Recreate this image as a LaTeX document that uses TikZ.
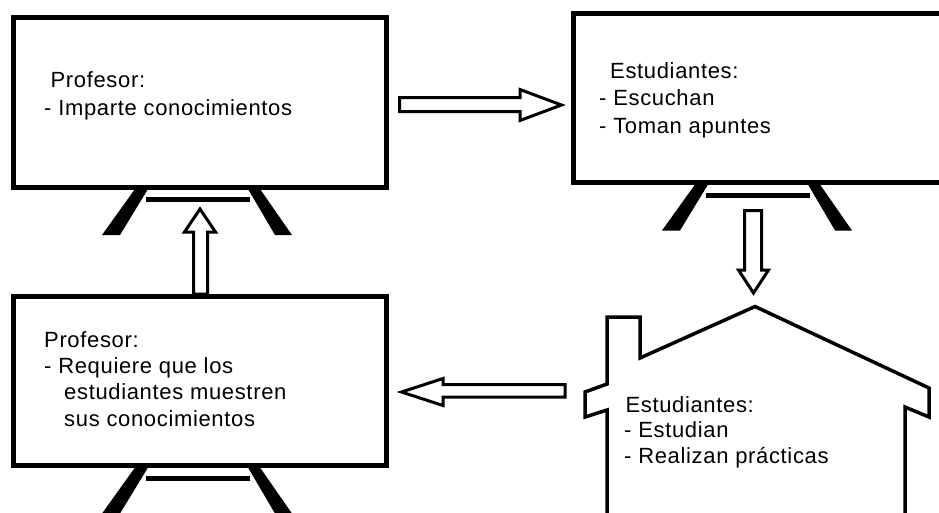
\documentclass[tikz,border=0pt]{standalone}
\usepackage{fontspec}
\setmainfont{Liberation Sans}[LetterSpace=3]
\begin{document}
\begin{tikzpicture}[x=1pt,y=-1pt,
  boxline/.style={line width=5pt,draw=black,fill=white},
  leg/.style={fill=black},
  barline/.style={line width=5pt},
  blockarrow/.style={line width=3pt,draw=black,fill=white,line join=miter},
  houseline/.style={line width=3.5pt,draw=black,fill=white,line join=miter},
  txt/.style={anchor=base west,inner sep=0pt,align=left},
  easel/.pic={
    \draw[boxline] (0,0) rectangle (373.5,169.5);
    \fill[leg] (122,171.5) -- (135,171.5) -- (107,217.5) -- (89,217.5) -- cycle;
    \fill[leg] (235,171.5) -- (247,171.5) -- (279,217.5) -- (262,217.5) -- cycle;
    \draw[barline] (133,182) -- (237,182);
  }]
\useasboundingbox (0,0) rectangle (939,512);
\fill[white] (0,0) rectangle (939,512);
\begin{scope}
\clip (0,0) rectangle (939,512);
% easels
\pic (e1) at (13,17.5) {easel};
\pic (e2) at (573,13) {easel};
\pic (e3) at (13,296) {easel};
% house
\draw[houseline] (607,530) -- (607,410) -- (585,417) -- (585,392) -- (607,384)
  -- (607,317) -- (640,317) -- (640,358) -- (755,306.5) -- (929,388)
  -- (929,417) -- (905,407) -- (905,530);
% arrows
\draw[blockarrow] (399.5,97.5) -- (520,97.5) -- (520,89.5) -- (561.5,105)
  -- (520,120.5) -- (520,111.5) -- (399.5,111.5) -- cycle;
\draw[blockarrow] (744.5,210.5) -- (761.5,210.5) -- (761.5,270) -- (768.5,270)
  -- (753.5,293) -- (738.5,270) -- (744.5,270) -- cycle;
\draw[blockarrow] (565,384.5) -- (443,384.5) -- (443,378.5) -- (401.5,392)
  -- (443,405.5) -- (443,397) -- (565,397) -- cycle;
\draw[blockarrow] (193.5,294) -- (193.5,232) -- (184.5,232) -- (200,209)
  -- (215.5,232) -- (207.5,232) -- (207.5,294) -- cycle;
\end{scope}
% texts (base anchor = baseline of the last line)
\node[txt,font=\fontsize{22}{28}\selectfont] (t1) at (44,115)
  {\hspace*{6.4pt}Profesor:\\- Imparte conocimientos};
\node[txt,font=\fontsize{22}{27.5}\selectfont] (t2) at (599,133)
  {\hspace*{11pt}Estudiantes:\\- Escuchan\\- Toman apuntes};
\node[txt,font=\fontsize{22}{26.3}\selectfont] (t3) at (44,426)
  {Profesor:\\- Requiere que los\\\hspace*{20pt}estudiantes muestren\\\hspace*{20pt}sus conocimientos};
\node[txt,font=\fontsize{22}{25.5}\selectfont] (t4) at (624,463)
  {\hspace*{1.3pt}Estudiantes:\\- Estudian\\- Realizan prácticas};
\end{tikzpicture}
\end{document}
